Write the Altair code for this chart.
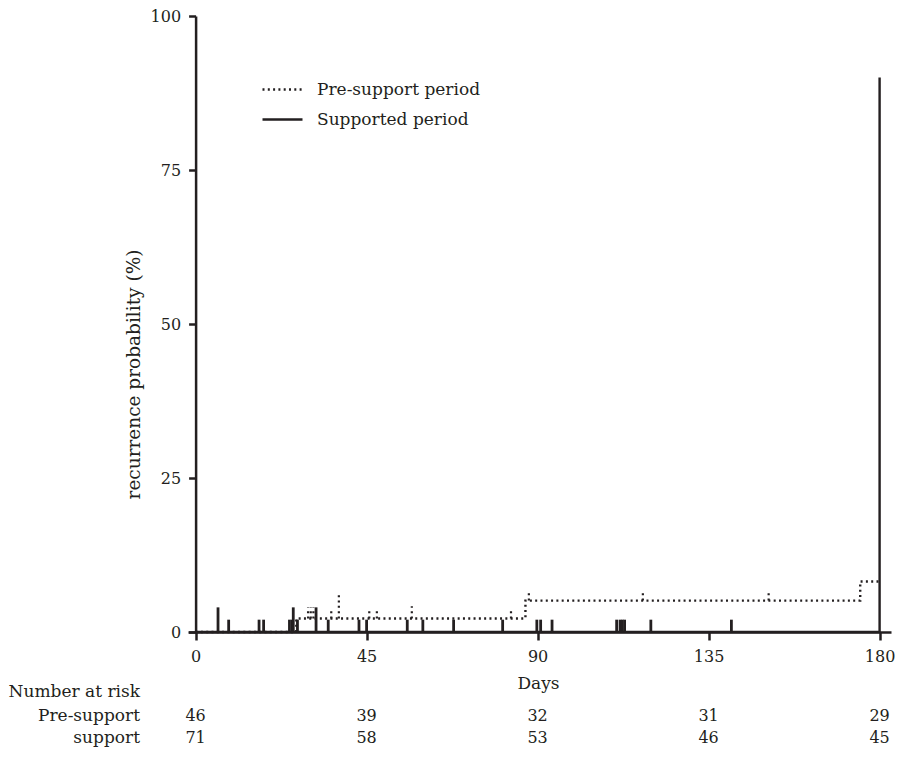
import altair as alt
import pandas as pd

FONT = "DejaVu Serif"
INK = "#231f20"
DOT = [2, 3.3]

# Kaplan-Meier step curves (day, cumulative recurrence %)
pre_days = [0, 26.5, 86.8, 174.9, 180]
pre_pct = [0, 2.2, 5.1, 8.2, 8.2]
sup_days = [0, 180]
sup_pct = [0, 90]

# censor marks, pre-support period (day, curve level, top of mark)
pre_cens_days = [29.6, 30.3, 31.0, 35.7, 37.7, 45.7, 47.7, 56.9, 83.0, 87.7, 117.7, 150.8]
pre_cens_base = [2.2, 2.2, 2.2, 2.2, 2.2, 2.2, 2.2, 2.2, 2.2, 5.1, 5.1, 5.1]
pre_cens_top = [4.0, 4.0, 4.0, 3.9, 6.1, 3.7, 3.7, 4.2, 3.9, 6.6, 6.6, 6.6]

# censor marks, supported period
sup_cens_days = [5.9, 8.7, 16.7, 17.9, 24.7, 25.4, 25.7, 26.8, 31.7, 34.9, 43.0, 45.0,
                 55.7, 59.8, 67.9, 80.8, 89.8, 90.8, 93.8, 110.8, 111.7, 112.3, 112.9,
                 119.8, 141.0]
sup_cens_top = [4, 2, 2, 2, 2, 2, 4, 2, 4, 2, 2, 2,
                2, 2, 2, 2, 2, 2, 2, 2, 2, 2, 2,
                2, 2]

# number at risk table
risk_days = [0, 45, 90, 135, 180]
risk_pre = [46, 39, 32, 31, 29]
risk_sup = [71, 58, 53, 46, 45]
row_labels = ["Number at risk", "Pre-support", "support"]

series_names = ["Pre-support period", "Supported period"]

curves = pd.DataFrame({
    "day": pre_days + sup_days,
    "pct": pre_pct + sup_pct,
    "series": [series_names[0]] * len(pre_days) + [series_names[1]] * len(sup_days),
})
pre_cens = pd.DataFrame({"day": pre_cens_days, "base": pre_cens_base, "top": pre_cens_top})
sup_cens = pd.DataFrame({"day": sup_cens_days, "base": [0] * len(sup_cens_days), "top": sup_cens_top})
risk = pd.DataFrame({"day": risk_days, "pre": risk_pre, "sup": risk_sup})

W, H = 703, 616
ROW_Y = [676, 700, 722]   # vertical placement of the table rows (px below plot top)

xscale = alt.Scale(domain=[-2, 183], nice=False, zero=False)
yscale = alt.Scale(domain=[0, 100], nice=False)

xaxis = alt.Axis(values=risk_days, title="Days", tickSize=8, labelPadding=8,
                 titleX=350, titleY=51, titleBaseline="middle", titleAlign="center",
                 grid=False)
yaxis = alt.Axis(values=[0, 25, 50, 75, 100], title="recurrence probability (%)",
                 tickSize=7, labelPadding=8, offset=-7.6, grid=False,
                 titleX=-62, titleY=358, titleBaseline="middle", titleAlign="center",
                 titleAngle=-90, titleFontSize=18.5)

X = alt.X("day:Q", scale=xscale, axis=xaxis)
Y = alt.Y("pct:Q", scale=yscale, axis=yaxis)

lines = alt.Chart(curves).mark_line(interpolate="step-after", color=INK, strokeWidth=2.4).encode(
    x=X, y=Y,
    strokeDash=alt.StrokeDash(
        "series:N",
        scale=alt.Scale(domain=series_names, range=[DOT, [1, 0]]),
        legend=alt.Legend(title=None, orient="none", legendX=73, legendY=52,
                          symbolType="stroke", symbolSize=1600, symbolStrokeWidth=2.4,
                          symbolStrokeColor=INK, labelFont=FONT, labelFontSize=17,
                          labelColor=INK, labelOffset=13, labelLimit=400, padding=0,
                          rowPadding=-5),
    ),
)

pre_marks = alt.Chart(pre_cens).mark_rule(color=INK, strokeWidth=2.2, strokeDash=DOT).encode(
    x=alt.X("day:Q", scale=xscale), y=alt.Y("base:Q", scale=yscale), y2="top:Q")

sup_marks = alt.Chart(sup_cens).mark_rule(color=INK, strokeWidth=2.8).encode(
    x=alt.X("day:Q", scale=xscale), y=alt.Y("base:Q", scale=yscale), y2="top:Q")

txt = dict(font=FONT, fontSize=16, color=INK, baseline="middle", align="center")
pre_txt = alt.Chart(risk).mark_text(**txt).encode(
    x=alt.X("day:Q", scale=xscale), y=alt.value(ROW_Y[1]), text="pre:Q")
sup_txt = alt.Chart(risk).mark_text(**txt).encode(
    x=alt.X("day:Q", scale=xscale), y=alt.value(ROW_Y[2]), text="sup:Q")

lab_layers = []
for lab, yy in zip(row_labels, ROW_Y):
    lab_layers.append(
        alt.Chart(pd.DataFrame({"label": [lab]})).mark_text(
            align="right", font=FONT, fontSize=17, color=INK, baseline="middle"
        ).encode(x=alt.value(-48), y=alt.value(yy), text="label:N")
    )

chart = alt.layer(lines, sup_marks, pre_marks, pre_txt, sup_txt, *lab_layers).properties(
    width=W, height=H,
    autosize=alt.AutoSizeParams(type="none"),
    padding={"left": 180, "top": 8, "right": 5, "bottom": 115},
).configure_view(stroke=None).configure_axis(
    domainColor=INK, domainWidth=2.5, tickColor=INK, tickWidth=2.5,
    labelFont=FONT, labelFontSize=16, labelColor=INK,
    titleFont=FONT, titleFontSize=17, titleFontWeight="normal", titleColor=INK,
)

chart.save("out.html", embed_options={"renderer": "svg", "actions": False})
